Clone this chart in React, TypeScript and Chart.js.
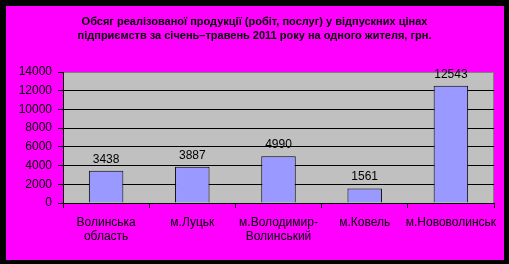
import { useEffect, useRef } from "react";
import { Chart, registerables } from "chart.js";

Chart.register(...registerables);

// Categories (multi-line labels as arrays)
const categories: (string | string[])[] = [
  ["Волинська", "область"],
  "м.Луцьк",
  ["м.Володимир-", "Волинський"],
  "м.Ковель",
  "м.Нововолинськ",
];

// Output per inhabitant, UAH
const values = [3438, 3887, 4990, 1561, 12543];

const titleLines = [
  "Обсяг реалізованої продукції (робіт, послуг) у відпускних цінах",
  "підприємств за січень–травень 2011 року на одного жителя, грн.",
];

const yMin = 0;
const yMax = 14000;
const yStep = 2000;

const FONT = "'Liberation Sans', Arial, sans-serif";

const framePlugin = {
  id: "frame",
  beforeDraw(chart: any) {
    const { ctx, width, height, chartArea } = chart;
    ctx.save();
    ctx.fillStyle = "#000000";
    ctx.fillRect(0, 0, width, height);
    ctx.fillStyle = "#FF00FF";
    ctx.fillRect(6, 6, 498, 254);
    ctx.fillStyle = "#C0C0C0";
    ctx.fillRect(chartArea.left, chartArea.top, chartArea.right - chartArea.left, chartArea.bottom - chartArea.top);
    ctx.strokeStyle = "#808080";
    ctx.lineWidth = 1;
    ctx.beginPath();
    ctx.moveTo(chartArea.left, chartArea.top + 0.5);
    ctx.lineTo(chartArea.right - 0.5, chartArea.top + 0.5);
    ctx.lineTo(chartArea.right - 0.5, chartArea.bottom);
    ctx.stroke();
    ctx.restore();
  },
  afterDraw(chart: any) {
    const { ctx } = chart;
    ctx.save();
    ctx.font = `bold 11px ${FONT}`;
    ctx.fillStyle = "#000000";
    ctx.textAlign = "center";
    ctx.textBaseline = "middle";
    titleLines.forEach((line, i) => {
      ctx.fillText(line, 254.5, 21.5 + i * 14.5);
    });
    ctx.restore();
  },
};

const valueLabelPlugin = {
  id: "valueLabels",
  afterDatasetsDraw(chart: any) {
    const { ctx } = chart;
    const meta = chart.getDatasetMeta(0);
    ctx.save();
    ctx.font = `12px ${FONT}`;
    ctx.fillStyle = "#000000";
    ctx.textAlign = "center";
    ctx.textBaseline = "alphabetic";
    meta.data.forEach((bar: any, i: number) => {
      ctx.fillText(String(values[i]), bar.x, bar.y - 8);
    });
    ctx.restore();
  },
};

export default function App() {
  const canvasRef = useRef<HTMLCanvasElement | null>(null);

  useEffect(() => {
    document.body.style.margin = "0";
    const canvas = canvasRef.current;
    if (!canvas) return;
    const chart = new Chart(canvas, {
      type: "bar",
      data: {
        labels: categories,
        datasets: [
          {
            data: values,
            backgroundColor: "#9999FF",
            borderColor: "#000000",
            borderWidth: 1,
            barPercentage: 0.4,
            categoryPercentage: 1.0,
          },
        ],
      },
      options: {
        responsive: false,
        animation: false,
        devicePixelRatio: 1,
        layout: { padding: { left: 0, top: 72, right: 15, bottom: 0 } },
        plugins: {
          legend: { display: false },
          tooltip: { enabled: false },
          title: { display: false },
        },
        scales: {
          x: {
            offset: true,
            grid: {
              offset: true,
              drawOnChartArea: false,
              drawTicks: true,
              tickLength: 5,
              color: "#000000",
            },
            border: { color: "#000000" },
            ticks: {
              color: "#000000",
              font: { family: FONT, size: 12 },
              maxRotation: 0,
              minRotation: 0,
              autoSkip: false,
              padding: 7,
            },
            afterFit(scale: any) {
              scale.height = 61;
            },
          },
          y: {
            min: yMin,
            max: yMax,
            grid: {
              color: (c: any) => (c.tick && c.tick.value === yMax ? "#808080" : "#000000"),
              tickColor: "#000000",
              tickLength: 5,
            },
            border: { color: "#000000" },
            ticks: {
              stepSize: yStep,
              color: "#000000",
              font: { family: FONT, size: 12 },
              padding: 6,
              callback: (v: any) => String(v),
            },
            afterFit(scale: any) {
              scale.width = 63;
            },
          },
        },
      },
      plugins: [framePlugin, valueLabelPlugin],
    });
    return () => chart.destroy();
  }, []);

  return <canvas ref={canvasRef} width={509} height={264} style={{ display: "block" }} />;
}
